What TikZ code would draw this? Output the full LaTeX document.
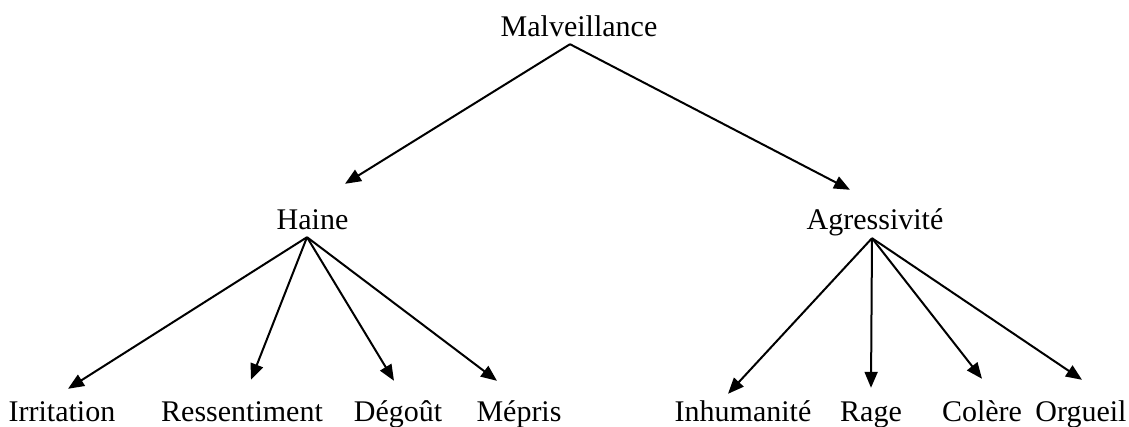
\documentclass[tikz,border=0pt]{standalone}
\usepackage{fontspec}
\setmainfont{Liberation Serif}
\usetikzlibrary{arrows.meta}
\begin{document}
\begin{tikzpicture}[x=1pt,y=-1pt,
  lbl/.style={anchor=base,inner sep=0pt,font=\fontsize{30}{33}\selectfont,text height=21pt,text depth=6pt},
  arr/.style={line width=2pt,-{Triangle[length=16pt,width=13pt]}}]
\useasboundingbox[fill=white] (0,0) rectangle (1129,427);
\node[lbl] (malv) at (579,37) {Malveillance};
\node[lbl] (haine) at (312.5,230) {Haine};
\node[lbl] (agr) at (875,230) {Agressivité};
\node[lbl] (irr) at (62,421) {Irritation};
\node[lbl] (ress) at (242,421) {Ressentiment};
\node[lbl] (deg) at (398,421) {Dégoût};
\node[lbl] (mep) at (519,421) {Mépris};
\node[lbl] (inh) at (743,421) {Inhumanité};
\node[lbl] (rage) at (871,421) {Rage};
\node[lbl] (col) at (982,421) {Colère};
\node[lbl] (org) at (1081,421) {Orgueil};
\draw[arr] ([xshift=-9pt,yshift=-1pt]malv.south) -- ([xshift=32.5pt,yshift=25pt]haine.north);
\draw[arr] ([xshift=-9pt,yshift=-1pt]malv.south) -- ([xshift=-25pt,yshift=19pt]agr.north);
\draw[arr] ([xshift=-5.5pt,yshift=-1pt]haine.south) -- ([xshift=6pt,yshift=11pt]irr.north);
\draw[arr] ([xshift=-5.5pt,yshift=-1pt]haine.south) -- ([xshift=9pt,yshift=20pt]ress.north);
\draw[arr] ([xshift=-5.5pt,yshift=-1pt]haine.south) -- ([xshift=-4pt,yshift=19pt]deg.north);
\draw[arr] ([xshift=-5.5pt,yshift=-1pt]haine.south) -- ([xshift=-22pt,yshift=19pt]mep.north);
\draw[arr] ([xshift=-3pt,yshift=-2pt]agr.south) -- ([xshift=-15pt,yshift=6pt]inh.north);
\draw[arr] ([xshift=-3pt,yshift=-2pt]agr.south) -- ([xshift=0pt,yshift=12pt]rage.north);
\draw[arr] ([xshift=-3pt,yshift=-2pt]agr.south) -- ([xshift=0pt,yshift=21pt]col.north);
\draw[arr] ([xshift=-3pt,yshift=-2pt]agr.south) -- ([xshift=1pt,yshift=20pt]org.north);
\end{tikzpicture}
\end{document}
